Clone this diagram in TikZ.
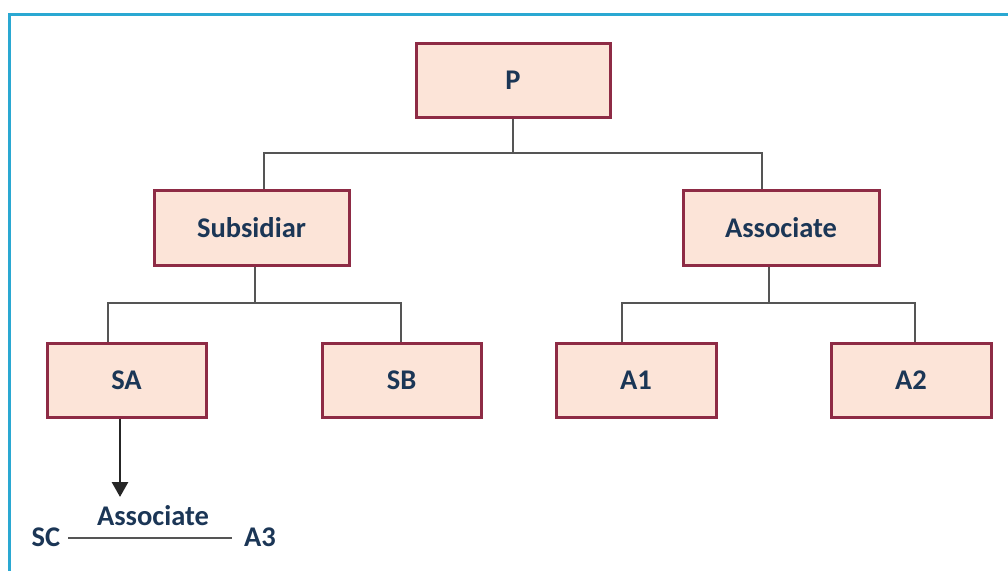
\documentclass[tikz,border=0pt]{standalone}
\usepackage{fontspec}
\setmainfont{Carlito}
\usetikzlibrary{arrows.meta,calc}
\definecolor{boxfill}{HTML}{FCE4D8}
\definecolor{boxedge}{HTML}{8E2B45}
\definecolor{txt}{HTML}{1B3656}
\definecolor{wire}{HTML}{555555}
\definecolor{frame}{HTML}{2AA8D2}
\tikzset{
  entity/.style={draw=boxedge, line width=3pt, fill=boxfill, inner sep=0pt,
    font=\fontsize{28.5}{32}\selectfont\bfseries, text=txt},
  wirestyle/.style={draw=wire, line width=1.7pt},
  plain/.style={font=\fontsize{28.5}{32}\selectfont\bfseries, text=txt, inner sep=1pt}
}
\begin{document}
\begin{tikzpicture}[x=1pt,y=-1pt]
\useasboundingbox (0,0) rectangle (1008,570);
\begin{scope}
\clip (0,0) rectangle (1008,570);
\draw[frame, line width=3pt] (9.5,14.5) rectangle (1040,600);
\end{scope}
\node[entity, minimum width=194pt, minimum height=74pt] (P) at (513,80) {P};
\node[entity, minimum width=195pt, minimum height=75pt] (sub) at (251.5,227.5) {Subsidiar};
\node[entity, minimum width=196pt, minimum height=75pt] (asc) at (781,227.5) {Associate};
\node[entity, minimum width=159pt, minimum height=74pt] (SA) at (126.5,380) {SA};
\node[entity, minimum width=159pt, minimum height=74pt] (SB) at (401.5,380) {SB};
\node[entity, minimum width=160pt, minimum height=74pt] (A1) at (636,380) {A1};
\node[entity, minimum width=160pt, minimum height=74pt] (A2) at (911,380) {A2};
% junctions
\coordinate (jl) at (264,153);
\coordinate (jr) at (762,153);
\coordinate (jsl) at (108,303);
\coordinate (jsr) at (401,303);
\coordinate (jal) at (622,303);
\coordinate (jar) at (915,303);
\coordinate (jsub) at (255,0);
\coordinate (jasc) at (769,0);
% P branch
\draw[wirestyle] (P.south) -- (P.south |- jl);
\draw[wirestyle] (jl |- sub.north) -- (jl) -- (jr) -- (jr |- asc.north);
% Subsidiar branch
\draw[wirestyle] (jsub |- sub.south) -- (jsub |- jsl);
\draw[wirestyle] (jsl |- SA.north) -- (jsl) -- (jsr) -- (jsr |- SB.north);
% Associate branch
\draw[wirestyle] (jasc |- asc.south) -- (jasc |- jal);
\draw[wirestyle] (jal |- A1.north) -- (jal) -- (jar) -- (jar |- A2.north);
% arrow
\coordinate (tip) at (120,497);
\draw[draw=black!85, line width=2.8pt, -{Triangle[length=15pt,width=16pt]}] (tip |- SA.south) -- (tip);
% SC - A3
\node[plain] (SC) at (46,537) {SC};
\node[plain] (A3) at (260,537) {A3};
\coordinate (lvl) at (0,538);
\draw[wirestyle, line width=1.5pt] ($(SC.east |- lvl)+(7,0)$) -- ($(A3.west |- lvl)+(-11,0)$);
\node[plain] (lab) at (153,516) {Associate};
\end{tikzpicture}
\end{document}
